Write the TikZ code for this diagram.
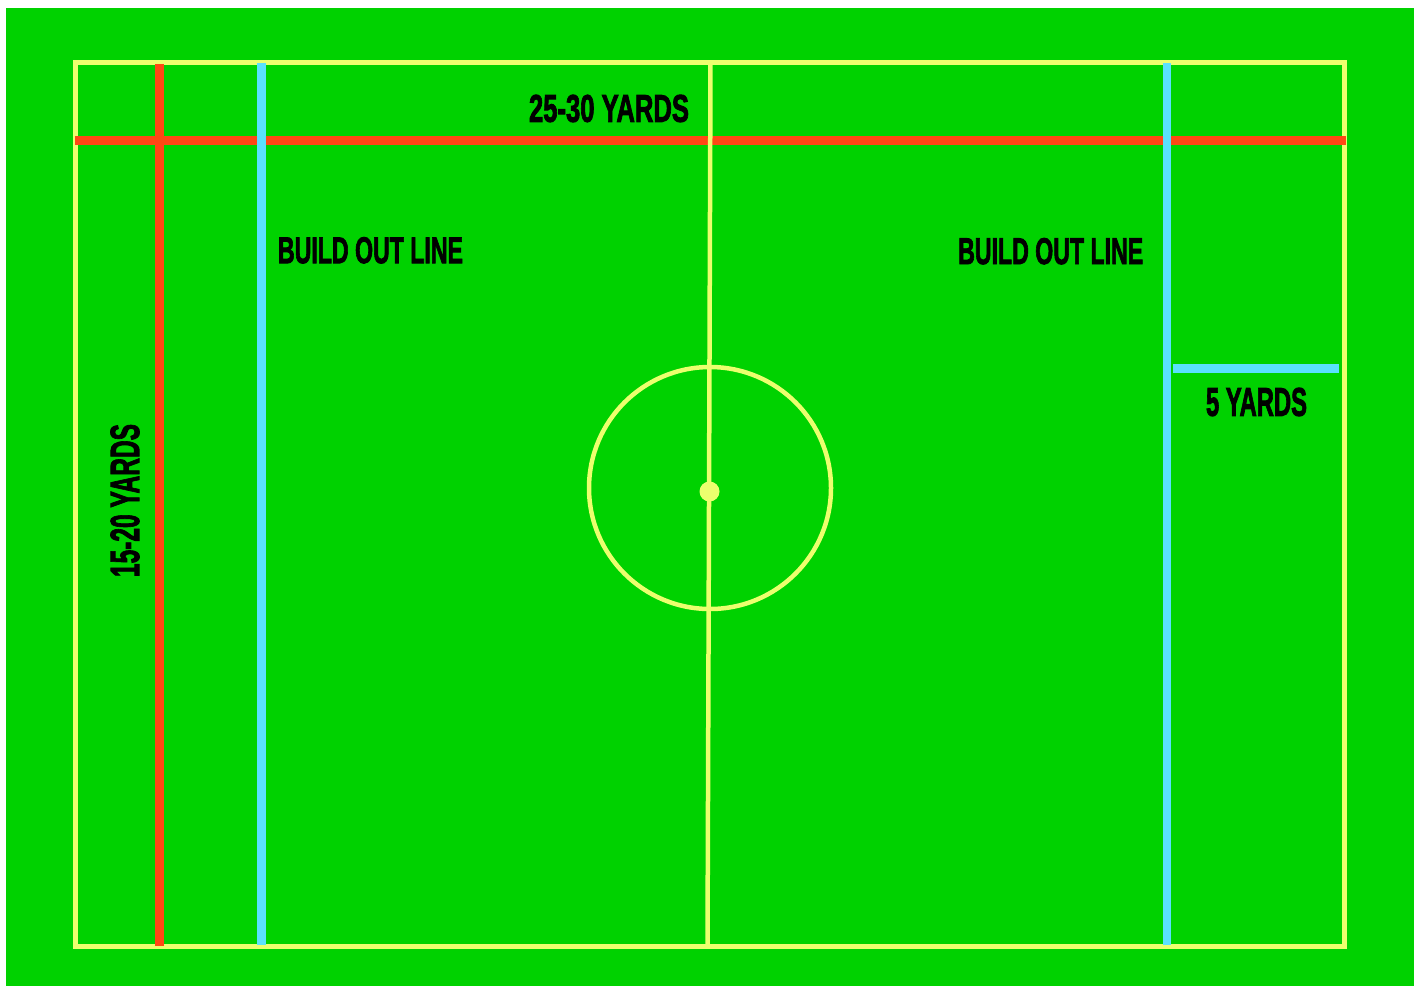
\documentclass[tikz,border=0pt]{standalone}
\usepackage{fontspec}
\setmainfont{Liberation Sans}[BoldFeatures={FakeBold=2.5}]
\usepackage{graphicx}
\definecolor{pitchgreen}{RGB}{0,210,0}
\definecolor{lineyellow}{RGB}{236,255,110}
\definecolor{linered}{RGB}{255,72,20}
\definecolor{linecyan}{RGB}{90,225,255}
\newcommand\pitchlbl[3]{\resizebox{#1pt}{#2pt}{\bfseries #3}}
\tikzset{
  markline/.style={draw=lineyellow,line width=5pt},
  thinmark/.style={draw=lineyellow,line width=4.5pt},
  redline/.style={draw=linered,line width=9pt},
  cyanline/.style={draw=linecyan,line width=8.5pt},
  lbl/.style={inner sep=0pt,outer sep=0pt,text=black},
}
\begin{document}
\begin{tikzpicture}[x=1pt,y=-1pt]
\useasboundingbox (0,0) rectangle (1424,986);
\fill[white] (0,0) rectangle (1424,986);
\fill[pitchgreen] (6,8) rectangle (1414,986);
% outer boundary
\draw[markline] (75.5,62) rectangle (1344.5,946);
% red measurement lines
\draw[redline] (75,140.5) -- (1346,140.5);
\draw[redline] (159.5,64) -- (159.5,946);
% build out lines
\draw[cyanline] (261.5,63) -- (261.5,945);
\draw[cyanline] (1167,63) -- (1167,945);
\draw[cyanline] (1173,368.5) -- (1339,368.5);
% halfway line and centre circle
\draw[thinmark] (710.5,62) -- (707.5,946);
\draw[thinmark] (710,488) circle[radius=121];
\fill[lineyellow] (709.5,491.5) circle[radius=10];
% labels
\node[lbl] (top) at (609,108.5) {\pitchlbl{160}{27}{25-30 YARDS}};
\node[lbl] (bolL) at (370.5,250.3) {\pitchlbl{185}{26}{BUILD OUT LINE}};
\node[lbl] (bolR) at (1050.7,251.2) {\pitchlbl{185}{26}{BUILD OUT LINE}};
\node[lbl] (five) at (1256.5,402) {\pitchlbl{101}{28}{5 YARDS}};
\node[lbl,rotate=90] (side) at (125,500.5) {\pitchlbl{153}{28.5}{15-20 YARDS}};
\end{tikzpicture}
\end{document}
